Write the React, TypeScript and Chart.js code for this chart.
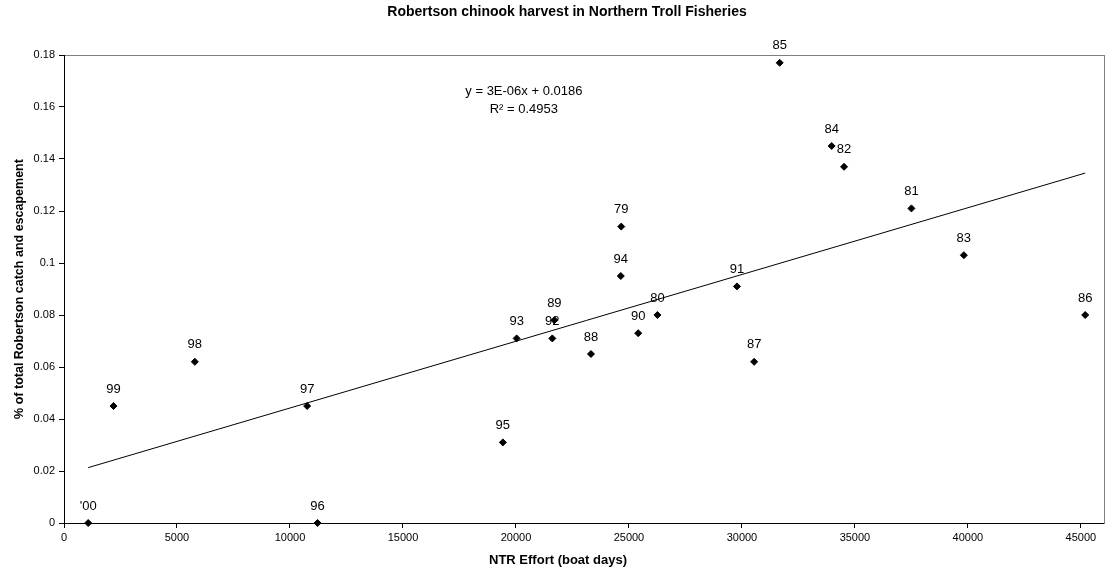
import React, { useEffect, useRef } from "react";
import { Chart, registerables } from "chart.js";

Chart.register(...registerables);

// ---- data ----
const yearLabels = ["'00", "99", "98", "97", "96", "95", "93", "92", "89", "88", "94", "79", "90", "80", "91", "87", "85", "84", "82", "81", "83", "86"];
const effort = [1070, 2190, 5790, 10760, 11220, 19420, 20030, 21610, 21700, 23320, 24640, 24660, 25410, 26260, 29780, 30540, 31670, 33970, 34520, 37500, 39820, 45190];
const share = [0, 0.045, 0.062, 0.045, 0, 0.031, 0.071, 0.071, 0.078, 0.065, 0.095, 0.114, 0.073, 0.08, 0.091, 0.062, 0.177, 0.145, 0.137, 0.121, 0.103, 0.08];
const xTicks = [0, 5000, 10000, 15000, 20000, 25000, 30000, 35000, 40000, 45000];
const yTicks = [0, 0.02, 0.04, 0.06, 0.08, 0.1, 0.12, 0.14, 0.16, 0.18];
const equationLines = ["y = 3E-06x + 0.0186", "R\u00b2 = 0.4953"];

const chartTitle = "Robertson chinook harvest in Northern Troll Fisheries";
const xTitle = "NTR Effort (boat days)";
const yTitle = "% of total Robertson catch and escapement";

const FONT = '"Liberation Sans", Arial, Helvetica, sans-serif';

// least-squares trend line (as Excel's linear trendline)
function trendLine() {
  const n = effort.length;
  const mx = effort.reduce((a, b) => a + b, 0) / n;
  const my = share.reduce((a, b) => a + b, 0) / n;
  let sxy = 0;
  let sxx = 0;
  for (let i = 0; i < n; i++) {
    sxy += (effort[i] - mx) * (share[i] - my);
    sxx += (effort[i] - mx) * (effort[i] - mx);
  }
  const slope = sxy / sxx;
  const icpt = my - slope * mx;
  const x0 = Math.min(...effort);
  const x1 = Math.max(...effort);
  return [
    { x: x0, y: icpt + slope * x0 },
    { x: x1, y: icpt + slope * x1 },
  ];
}

const plotBorderPlugin = {
  id: "plotBorder",
  beforeDraw(chart: any) {
    const { ctx, chartArea } = chart;
    ctx.save();
    ctx.strokeStyle = "#808080";
    ctx.lineWidth = 1;
    ctx.strokeRect(
      Math.round(chartArea.left) + 0.5,
      Math.round(chartArea.top) + 0.5,
      Math.round(chartArea.right - chartArea.left),
      Math.round(chartArea.bottom - chartArea.top)
    );
    ctx.restore();
  },
};

const titlesPlugin = {
  id: "titles",
  afterDraw(chart: any) {
    const ctx = chart.ctx;
    ctx.save();
    ctx.fillStyle = "#000";
    ctx.textAlign = "center";
    ctx.textBaseline = "middle";
    ctx.font = `bold 14px ${FONT}`;
    ctx.fillText(chartTitle, 567, 12);
    ctx.font = `bold 13px ${FONT}`;
    ctx.fillText(xTitle, 558, 560);
    ctx.restore();
  },
};

const pointLabelPlugin = {
  id: "pointLabels",
  afterDatasetsDraw(chart: any) {
    const meta = chart.getDatasetMeta(0);
    const ctx = chart.ctx;
    ctx.save();
    ctx.font = `13px ${FONT}`;
    ctx.fillStyle = "#000";
    ctx.textAlign = "center";
    ctx.textBaseline = "middle";
    meta.data.forEach((el: any, i: number) => {
      ctx.fillText(yearLabels[i], el.x, el.y - 17);
    });
    ctx.restore();
  },
};

const equationPlugin = {
  id: "equation",
  afterDatasetsDraw(chart: any) {
    const { ctx, scales } = chart;
    const x = scales.x.getPixelForValue(20350);
    const y = scales.y.getPixelForValue(0.166);
    ctx.save();
    ctx.font = `13px ${FONT}`;
    ctx.fillStyle = "#000";
    ctx.textAlign = "center";
    ctx.textBaseline = "middle";
    equationLines.forEach((line, i) => ctx.fillText(line, x, y + i * 18.5));
    ctx.restore();
  },
};

export default function App() {
  const canvasRef = useRef<HTMLCanvasElement | null>(null);

  useEffect(() => {
    if (!canvasRef.current) return;
    const points = effort.map((x, i) => ({ x, y: share[i] }));
    const chart = new Chart(canvasRef.current, {
      type: "scatter",
      data: {
        datasets: [
          {
            label: "share",
            data: points,
            pointStyle: "rectRot",
            pointRadius: 3.5,
            pointHoverRadius: 3.5,
            pointBorderWidth: 1,
            backgroundColor: "#000",
            borderColor: "#000",
            clip: false,
          } as any,
          {
            label: "trend",
            data: trendLine(),
            showLine: true,
            borderColor: "#000",
            borderWidth: 1,
            pointRadius: 0,
            pointHoverRadius: 0,
          } as any,
        ],
      },
      options: {
        animation: false,
        responsive: false,
        devicePixelRatio: 1,
        events: [],
        layout: { padding: { left: 0, right: 2, top: 55, bottom: 0 } },
        plugins: {
          legend: { display: false },
          tooltip: { enabled: false },
          title: { display: false },
        },
        scales: {
          x: {
            type: "linear",
            min: 0,
            max: 46000,
            afterFit: (s: any) => {
              s.height = 54;
            },
            afterBuildTicks: (s: any) => {
              s.ticks = xTicks.map((v) => ({ value: v }));
            },
            ticks: {
              color: "#000",
              font: { family: FONT, size: 11 },
              padding: 3,
              maxRotation: 0,
              autoSkip: false,
              callback: (v: any) => String(v),
            },
            grid: { drawOnChartArea: false, drawTicks: true, tickLength: 5, color: "#000" },
            border: { display: true, color: "#000", width: 1 },
          },
          y: {
            type: "linear",
            min: 0,
            max: 0.18,
            afterFit: (s: any) => {
              s.width = 64;
            },
            afterBuildTicks: (s: any) => {
              s.ticks = yTicks.map((v) => ({ value: v }));
            },
            ticks: {
              color: "#000",
              font: { family: FONT, size: 11 },
              padding: 4,
              autoSkip: false,
              callback: (v: any) => String(Math.round(Number(v) * 100) / 100),
            },
            grid: { drawOnChartArea: false, drawTicks: true, tickLength: 5, color: "#000" },
            border: { display: true, color: "#000", width: 1 },
            title: {
              display: true,
              text: yTitle,
              color: "#000",
              font: { family: FONT, size: 12.5, weight: "bold" },
              padding: { top: 12, bottom: 0 },
            },
          },
        },
      } as any,
      plugins: [plotBorderPlugin, pointLabelPlugin, equationPlugin, titlesPlugin],
    });
    return () => chart.destroy();
  }, []);

  return (
    <div style={{ position: "fixed", left: 0, top: 0, width: 1108, height: 577, background: "#fff" }}>
      <canvas ref={canvasRef} width={1108} height={577} style={{ display: "block" }} />
    </div>
  );
}
